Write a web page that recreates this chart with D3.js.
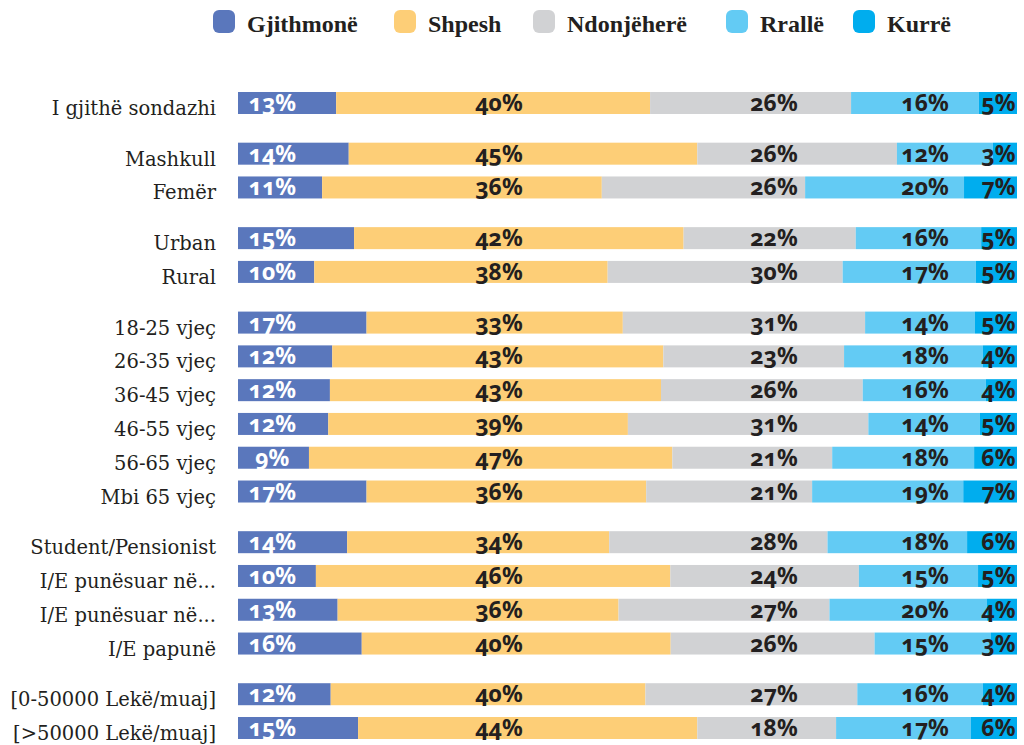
<!DOCTYPE html>
<html>
<head>
<meta charset="utf-8">
<script src="https://cdn.jsdelivr.net/npm/d3@7/dist/d3.min.js"></script>
<style>
  body { margin: 0; background: #fff; }
  svg { display: block; }
  .cat { font-family: "DejaVu Serif", serif; font-size: 19.5px; fill: #231f20; }
  .pct { font-family: "Noto Sans", sans-serif; font-weight: 700; font-size: 23px;
         font-variant-numeric: oldstyle-nums; }
  .leg { font-family: "Liberation Serif", serif; font-weight: 700; font-size: 24px; fill: #231f20; }
</style>
</head>
<body>
<div id="chart"></div>
<script>
// rows, top to bottom; group is used for the small gaps between blocks
var categories = ["I gjithë sondazhi", "Mashkull", "Femër", "Urban", "Rural",
  "18-25 vjeç", "26-35 vjeç", "36-45 vjeç", "46-55 vjeç", "56-65 vjeç", "Mbi 65 vjeç",
  "Student/Pensionist", "I/E punësuar në...", "I/E punësuar në...", "I/E papunë",
  "[0-50000 Lekë/muaj]", "[>50000 Lekë/muaj]"];
var groups = [0, 1, 1, 2, 2, 3, 3, 3, 3, 3, 3, 4, 4, 4, 4, 5, 5];

var seriesNames = ["Gjithmonë", "Shpesh", "Ndonjëherë", "Rrallë", "Kurrë"];
var colors = ["#5a77bc", "#fdce77", "#d1d2d4", "#63cbf4", "#00adee"];

// values in %
var gjithmone  = [12.6, 14.2, 10.8, 14.9, 9.8, 16.5, 12.1, 11.8, 11.6, 9.1, 16.5, 14.0, 10.0, 12.8, 15.9, 11.9, 15.4];
var shpesh     = [40.3, 44.7, 35.9, 42.3, 37.7, 32.9, 42.5, 42.5, 38.5, 46.6, 35.9, 33.6, 45.5, 36.1, 39.7, 40.4, 43.5];
var ndonjehere = [25.8, 25.6, 26.1, 22.1, 30.2, 31.1, 23.2, 25.9, 30.9, 20.5, 21.3, 28.0, 24.2, 27.1, 26.2, 27.2, 17.8];
var ralle      = [16.4, 12.3, 20.4, 16.1, 17.1, 14.1, 17.8, 15.8, 14.3, 18.2, 19.4, 17.9, 15.3, 20.2, 14.9, 16.1, 17.3];
var kurre      = [4.9, 3.1, 6.8, 4.6, 5.3, 5.4, 4.4, 4.0, 4.8, 5.5, 6.9, 6.4, 5.0, 3.9, 3.4, 4.4, 5.9];

var allSeries = [gjithmone, shpesh, ndonjehere, ralle, kurre];

var width = 1024, height = 745;
var barH = 22;

var rows = categories.map(function(c, i) {
  var r = { name: c, slot: i + groups[i] * 0.5 };
  seriesNames.forEach(function(s, j) { r[s] = allSeries[j][i]; });
  return r;
});

var stack = d3.stack().keys(seriesNames).offset(d3.stackOffsetExpand);
var stacked = stack(rows);

var x = d3.scaleLinear().domain([0, 1]).range([238, 1017]);
var y = d3.scaleLinear().domain([0, 18.5]).range([103, 728]);

// value labels sit in fixed columns, not inside their segment
var labelCols = [0.044, 0.335, 0.688, 0.882, 0.976];

var svg = d3.select("#chart").append("svg")
  .attr("width", width)
  .attr("height", height);

// legend
var legX = [213, 394, 533, 726, 853];
var leg = svg.append("g");
seriesNames.forEach(function(s, i) {
  leg.append("rect")
    .attr("x", legX[i]).attr("y", 10)
    .attr("width", 22).attr("height", 23)
    .attr("rx", 6)
    .attr("fill", colors[i]);
  leg.append("text")
    .attr("class", "leg")
    .attr("x", legX[i] + 34).attr("y", 32)
    .text(s);
});

// bars
var layer = svg.selectAll("g.layer")
  .data(stacked)
  .enter().append("g")
    .attr("class", "layer")
    .attr("fill", function(d, i) { return colors[i]; });

layer.selectAll("rect")
  .data(function(d) { return d; })
  .enter().append("rect")
    .attr("x", function(d) { return x(d[0]); })
    .attr("y", function(d) { return y(d.data.slot) - barH / 2; })
    .attr("width", function(d) { return x(d[1]) - x(d[0]); })
    .attr("height", barH);

// percent labels
layer.selectAll("text")
  .data(function(d, i) { return d.map(function(v) { return { v: v, k: i }; }); })
  .enter().append("text")
    .attr("class", "pct")
    .attr("x", function(d) { return x(labelCols[d.k]); })
    .attr("y", function(d) { return y(d.v.data.slot) + 8; })
    .attr("text-anchor", "middle")
    .attr("fill", function(d) { return d.k == 0 ? "#ffffff" : "#231f20"; })
    .text(function(d) { return Math.round(d.v.data[seriesNames[d.k]]) + "%"; });

// category labels
svg.append("g").selectAll("text")
  .data(rows)
  .enter().append("text")
    .attr("class", "cat")
    .attr("x", 216)
    .attr("y", function(d) { return y(d.slot) + 12; })
    .attr("text-anchor", "end")
    .text(function(d) { return d.name; });
</script>
</body>
</html>
